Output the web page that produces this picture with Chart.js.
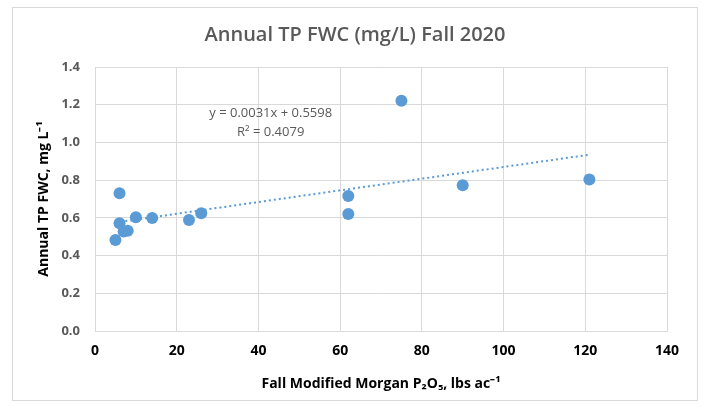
<!DOCTYPE html>
<html>
<head>
<meta charset="utf-8">
<script src="https://cdn.jsdelivr.net/npm/chart.js@4.4.0/dist/chart.umd.min.js"></script>
<style>
  html, body { margin: 0; padding: 0; background: #fff; }
  #wrap { width: 702px; height: 408px; }
</style>
</head>
<body>
<div id="wrap"><canvas id="chart" width="702" height="408"></canvas></div>
<script>
// Fall Modified Morgan P2O5 (lbs/ac) vs annual TP FWC (mg/L)
var pValues  = [5, 6, 6, 7, 8, 10, 14, 23, 26, 62, 62, 75, 90, 121];
var tpValues = [0.483, 0.571, 0.730, 0.527, 0.532, 0.603, 0.599, 0.589, 0.624, 0.716, 0.620, 1.221, 0.773, 0.804];

// linear trendline as printed on the chart
var slope = 0.0031;
var intercept = 0.5598;
var rSquared = 0.4079;
var trendX = [5, 121];

var xTickMin = 0, xTickMax = 140, xTickStep = 20;
var yTickMin = 0, yTickMax = 1.4, yTickStep = 0.2;

var chartTitle = 'Annual TP FWC (mg/L) Fall 2020';

var points = pValues.map(function(x, i) { return { x: x, y: tpValues[i] }; });
var trendPoints = trendX.map(function(x) { return { x: x, y: slope * x + intercept }; });

var blue = '#5b9bd5';
var grey = '#595959';
var gridColor = '#d9d9d9';

// outer frame, title (centred on the frame like excel) + regression label
var extras = {
    id: 'extras',
    beforeDraw: function(chart) {
        var ctx = chart.ctx;
        ctx.save();
        ctx.fillStyle = '#fff';
        ctx.fillRect(0, 0, chart.width, chart.height);
        ctx.strokeStyle = gridColor;
        ctx.lineWidth = 1;
        ctx.strokeRect(12.5, 7.5, 685, 393);
        ctx.fillStyle = grey;
        ctx.font = '600 20px "Open Sans"';
        ctx.textAlign = 'center';
        ctx.textBaseline = 'middle';
        ctx.fillText(chartTitle, 355, 35);
        ctx.restore();
    },
    afterDatasetsDraw: function(chart) {
        var ctx = chart.ctx;
        var xs = chart.scales.x, ys = chart.scales.y;
        var px = xs.getPixelForValue(43);
        var py = ys.getPixelForValue(1.156);
        ctx.save();
        ctx.fillStyle = grey;
        ctx.font = '13px "Open Sans"';
        ctx.textAlign = 'center';
        ctx.textBaseline = 'middle';
        ctx.fillText('y = ' + slope.toFixed(4) + 'x + ' + intercept.toFixed(4), px, py);
        ctx.fillText('R\u00b2 = ' + rSquared.toFixed(4), px, py + 19);
        ctx.restore();
    }
};

var ctx = document.getElementById('chart').getContext('2d');
new Chart(ctx, {
    type: 'scatter',
    data: {
        datasets: [
            {
                label: 'Linear trend',
                type: 'line',
                data: trendPoints,
                borderColor: blue,
                borderWidth: 2,
                borderDash: [2, 3],
                pointRadius: 0,
                fill: false,
                order: 0
            },
            {
                label: 'Annual TP FWC',
                data: points,
                backgroundColor: blue,
                borderColor: blue,
                borderWidth: 0,
                pointRadius: 6,
                order: 1
            }
        ]
    },
    plugins: [extras],
    options: {
        responsive: false,
        animation: false,
        layout: { padding: { left: 12, right: 35, top: 67, bottom: 0 } },
        plugins: {
            legend: { display: false },
            tooltip: { enabled: false },
            title: { display: false }
        },
        scales: {
            x: {
                type: 'linear',
                min: xTickMin,
                max: xTickMax,
                ticks: {
                    stepSize: xTickStep,
                    color: '#000',
                    padding: 12,
                    font: { family: 'Open Sans', size: 14, weight: 'bold' }
                },
                grid: { color: gridColor, drawTicks: false },
                border: { color: gridColor },
                title: {
                    display: true,
                    text: 'Fall Modified Morgan P\u2082O\u2085, lbs ac\u207b\u00b9',
                    color: '#000',
                    font: { family: 'Open Sans', size: 14, weight: 'bold', lineHeight: 1.2 },
                    padding: { top: 4, bottom: 16 }
                },
                afterFit: function(scale) { scale.height = 77; }
            },
            y: {
                type: 'linear',
                min: yTickMin,
                max: yTickMax,
                ticks: {
                    stepSize: yTickStep,
                    color: grey,
                    padding: 15,
                    font: { family: 'Open Sans', size: 13, weight: 'bold' },
                    callback: function(v) { return v.toFixed(1); }
                },
                grid: { color: gridColor, drawTicks: false },
                border: { color: gridColor },
                title: {
                    display: true,
                    text: 'Annual TP FWC, mg L\u207b\u00b9',
                    color: '#000',
                    font: { family: 'Open Sans', size: 14, weight: 'bold', lineHeight: 1.2 },
                    padding: { top: 24, bottom: 0 }
                },
                afterFit: function(scale) { scale.width = 83; }
            }
        }
    }
});
</script>
</body>
</html>
